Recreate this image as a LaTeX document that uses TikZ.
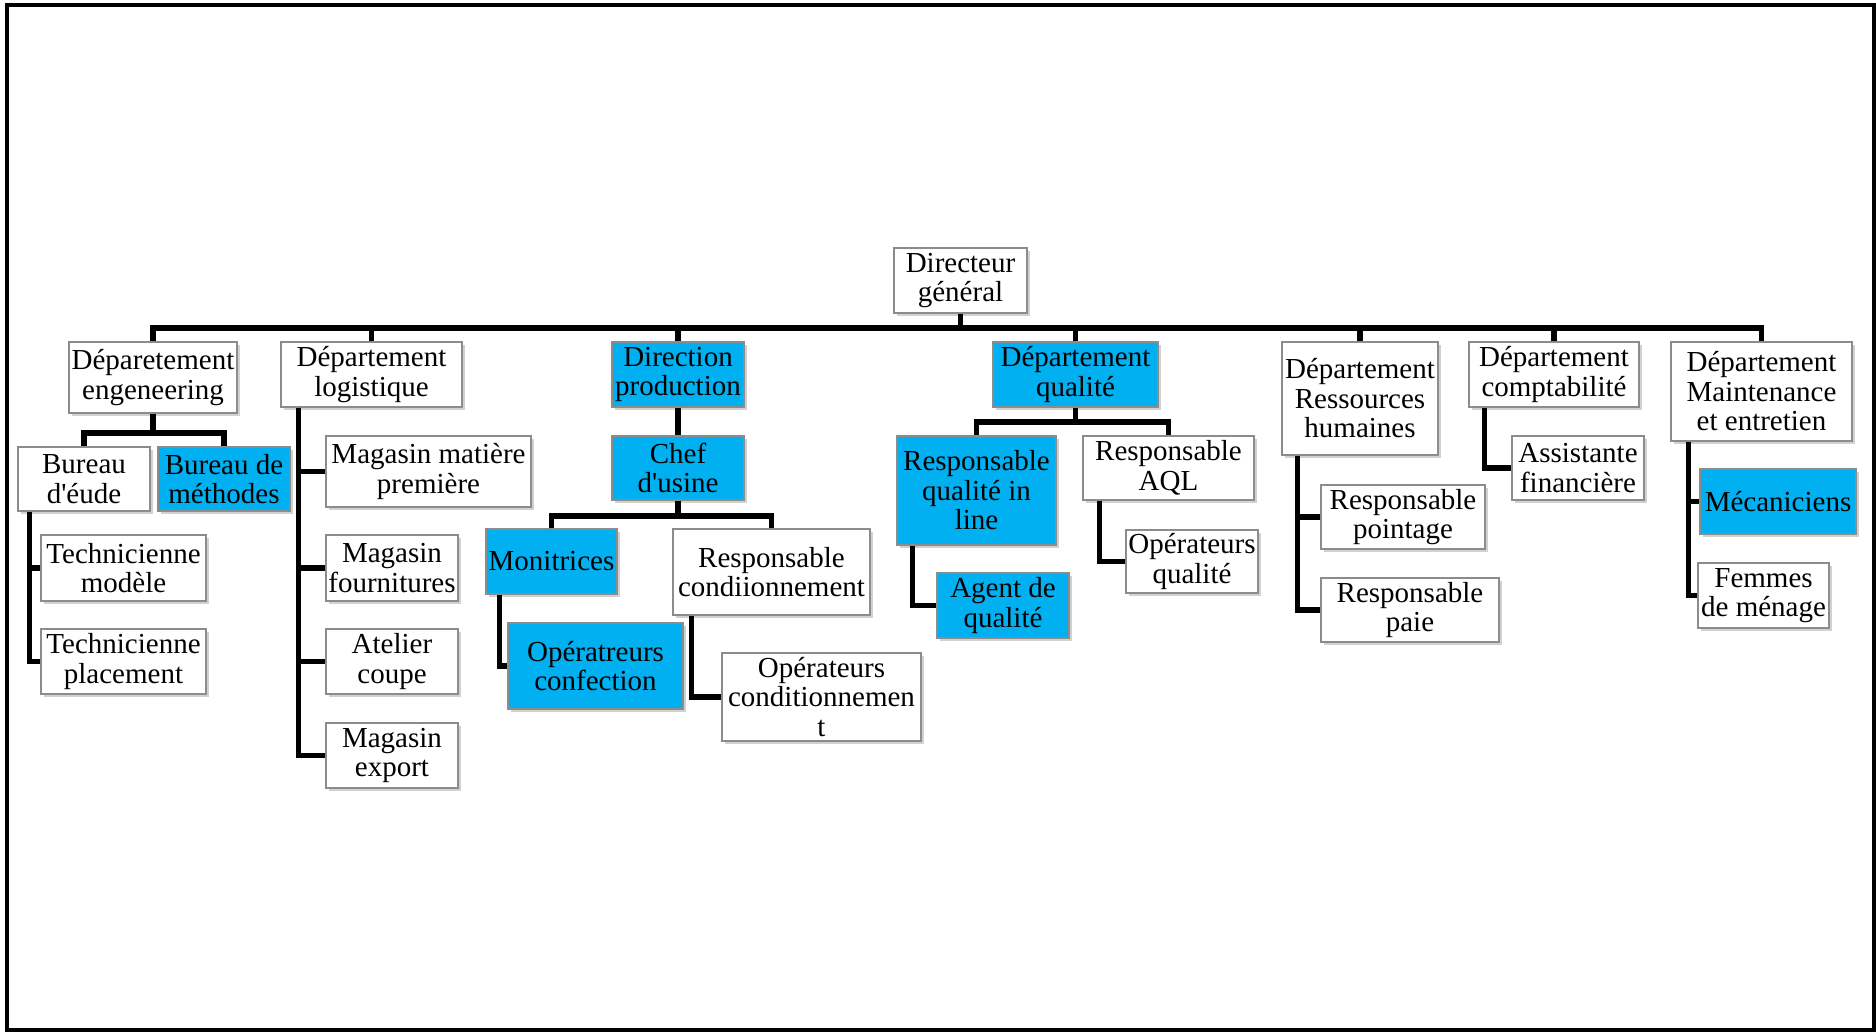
\documentclass[tikz,border=0pt]{standalone}
\usepackage{fontspec}
\setmainfont{Liberation Serif}
\usetikzlibrary{shadows}
\definecolor{bluefill}{HTML}{00B0F0}
\definecolor{boxedge}{HTML}{8C8C8C}
\newcommand\obox[6][]{\node[box,#1,minimum width={(#5-#3)*1pt},minimum height={(#6-#4)*1pt}] (#2) at ({(#3+#5)/2},{(#4+#6)/2})}
\begin{document}
\begin{tikzpicture}[x=1pt,y=-1pt,
  box/.style={draw=boxedge,line width=1.3pt,fill=white,align=center,inner xsep=1.5pt,inner ysep=1pt,
    font=\fontsize{29}{29.5}\selectfont,
    drop shadow={shadow xshift=2.5pt,shadow yshift=-3pt,fill=black,opacity=0.18}},
  fillb/.style={fill=bluefill},
  conn/.style={line width=5.2pt,line join=miter,draw=black}]
\useasboundingbox (0,0) rectangle (1876,1032);
\fill[white] (0,0) rectangle (1876,1032);
\draw[line width=4pt] (7,5.5) rectangle (1874,1030);
% level 0
\obox{dg}{894}{248}{1027}{313} {Directeur\\général};
% level 1
\obox{eng}{69}{342}{237}{413} {Déparetement\\engeneering};
\obox{log}{281}{342}{462}{407} {Département\\logistique};
\obox[fillb]{dp}{612}{342}{744}{407} {Direction\\production};
\obox[fillb]{dq}{993}{342}{1158}{407} {Département\\qualité};
\obox{rh}{1282}{342}{1438}{455} {Département\\Ressources\\humaines};
\obox{cpt}{1469}{342}{1639}{407} {Département\\comptabilité};
\obox{mnt}{1671}{342}{1852}{441} {Département\\Maintenance\\et entretien};
% engineering
\obox{bde}{18}{447}{150}{511} {Bureau\\d\textquotesingle éude};
\obox[fillb]{bdm}{158}{447}{290}{511} {Bureau de\\méthodes};
\obox{tm}{41}{535}{206}{601} {Technicienne\\modèle};
\obox{tp}{41}{629}{206}{694} {Technicienne\\placement};
% logistique
\obox{mmp}{326}{436}{531}{507} {Magasin matière\\première};
\obox{mf}{326}{535}{458}{601} {Magasin\\fournitures};
\obox{ac}{326}{629}{458}{694} {Atelier\\coupe};
\obox{me}{326}{723}{458}{788} {Magasin\\export};
% production
\obox[fillb]{cu}{612}{436}{744}{500} {Chef\\d\textquotesingle usine};
\obox[fillb]{mon}{486}{529}{617}{594} {Monitrices};
\obox{rc}{673}{529}{870}{615} {Responsable\\condiionnement};
\obox[fillb]{oc}{508}{623}{683}{709} {Opératreurs\\confection};
\obox{ocd}{722}{653}{921}{741} {Opérateurs\\conditionnemen\\t};
% qualite
\obox[fillb]{rqil}{897}{436}{1056}{545} {Responsable\\qualité in\\line};
\obox{aql}{1083}{436}{1254}{500} {Responsable\\AQL};
\obox[fillb]{aq}{937}{573}{1069}{638} {Agent de\\qualité};
\obox{oq}{1126}{530}{1258}{593} {Opérateurs\\qualité};
% RH
\obox{rp}{1321}{485}{1485}{549} {Responsable\\pointage};
\obox{rpa}{1321}{578}{1499}{642} {Responsable\\paie};
% compta
\obox{af}{1512}{436}{1644}{500} {Assistante\\financière};
% maintenance
\obox[fillb]{mec}{1700}{469}{1856}{534} {Mécaniciens};
\obox{fm}{1698}{563}{1829}{628} {Femmes\\de ménage};
% connectors
\coordinate (hub) at (960.5,328);
\draw[conn] (dg.south) -- (dg.south |- hub);
\foreach \n in {eng,log,dp,dq,rh,cpt,mnt} \draw[conn] (\n.north) |- (hub);
\coordinate (ehub) at (153,433);
\draw[conn] (eng.south) -- (ehub);
\draw[conn] (bde.north) |- (ehub);
\draw[conn] (bdm.north) |- (ehub);
\draw[conn] ([xshift=12pt]bde.south west) |- (tm.west);
\draw[conn] ([xshift=12pt]bde.south west) |- (tp.west);
\foreach \n in {mmp,mf,ac,me} \draw[conn] ([xshift=18pt]log.south west) |- (\n.west);
\draw[conn] (dp.south) -- (cu.north);
\coordinate (chub) at (678,516);
\draw[conn] (cu.south) -- (chub);
\draw[conn] (mon.north) |- (chub);
\draw[conn] (rc.north) |- (chub);
\draw[conn] ([xshift=14pt]mon.south west) |- (oc.west);
\draw[conn] ([xshift=19pt]rc.south west) |- (ocd.west);
\coordinate (qhub) at (1075.5,422);
\draw[conn] (dq.south) -- (qhub);
\draw[conn] (rqil.north) |- (qhub);
\draw[conn] (aql.north) |- (qhub);
\draw[conn] ([xshift=16pt]rqil.south west) |- (aq.west);
\draw[conn] ([xshift=17pt]aql.south west) |- (oq.west);
\foreach \n in {rp,rpa} \draw[conn] ([xshift=16pt]rh.south west) |- (\n.west);
\draw[conn] ([xshift=16pt]cpt.south west) |- (af.west);
\foreach \n in {mec,fm} \draw[conn] ([xshift=18pt]mnt.south west) |- (\n.west);
\end{tikzpicture}
\end{document}
